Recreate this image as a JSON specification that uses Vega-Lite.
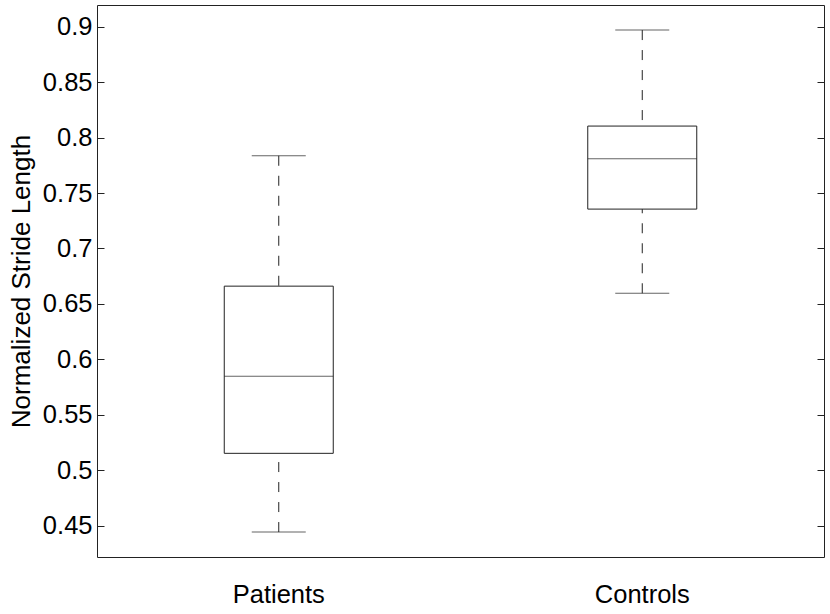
{
  "$schema": "https://vega.github.io/schema/vega-lite/v6.json",
  "width": 727,
  "height": 552,
  "autosize": "none",
  "padding": {"left": 97, "top": 5, "right": 6, "bottom": 57},
  "background": "white",
  "config": {
    "view": {"stroke": "#222222", "strokeWidth": 1},
    "font": "Liberation Sans",
    "axis": {"grid": false, "labelColor": "black", "titleColor": "black", "labelFont": "Liberation Sans", "titleFont": "Liberation Sans"}
  },
  "data": {
    "values": [
      {"group": "Patients", "lower": 0.4442, "q1": 0.5152, "median": 0.5847, "q3": 0.666, "upper": 0.7836},
      {"group": "Controls", "lower": 0.6596, "q1": 0.7355, "median": 0.7809, "q3": 0.8104, "upper": 0.897}
    ]
  },
  "encoding": {
    "x": {
      "field": "group",
      "type": "nominal",
      "sort": ["Patients", "Controls"],
      "scale": {"paddingInner": 0, "paddingOuter": 0},
      "axis": {"title": null, "labelAngle": 0, "labelFontSize": 25.5, "labelPadding": 25, "ticks": false, "domain": false}
    }
  },
  "resolve": {"axis": {"y": "independent"}},
  "layer": [
    {
      "mark": {"type": "rule", "color": "#222222", "strokeWidth": 1, "strokeDash": [10, 10]},
      "encoding": {
        "y": {"field": "lower", "type": "quantitative", "scale": {"domain": [0.4217, 0.9196], "nice": false, "zero": false}, "axis": null},
        "y2": {"field": "q1"}
      }
    },
    {
      "mark": {"type": "rule", "color": "#222222", "strokeWidth": 1, "strokeDash": [10, 10]},
      "encoding": {
        "y": {"field": "upper", "type": "quantitative", "axis": null},
        "y2": {"field": "q3"}
      }
    },
    {
      "mark": {"type": "bar", "fill": "white", "stroke": "#222222", "strokeWidth": 1, "size": 109},
      "encoding": {
        "y": {
          "field": "q1",
          "type": "quantitative",
          "axis": {
            "orient": "left",
            "offset": -7,
            "title": "Normalized Stride Length",
            "titleFontSize": 26,
            "titleFontWeight": "normal",
            "titlePadding": 8,
            "labelFontSize": 25.5,
            "labelPadding": 5,
            "ticks": true,
            "tickSize": 7,
            "tickWidth": 1,
            "tickColor": "#222222",
            "domain": false,
            "values": [0.45, 0.5, 0.55, 0.6, 0.65, 0.7, 0.75, 0.8, 0.85, 0.9],
            "format": ".2~f"
          }
        },
        "y2": {"field": "q3"}
      }
    },
    {
      "mark": {"type": "tick", "color": "#222222", "thickness": 1, "size": 109},
      "encoding": {"y": {"field": "median", "type": "quantitative", "axis": null}}
    },
    {
      "mark": {"type": "tick", "color": "#222222", "thickness": 1, "size": 54},
      "encoding": {"y": {"field": "lower", "type": "quantitative", "axis": null}}
    },
    {
      "mark": {"type": "tick", "color": "#222222", "thickness": 1, "size": 54},
      "encoding": {
        "y": {
          "field": "upper",
          "type": "quantitative",
          "axis": {
            "orient": "right",
            "offset": -7,
            "title": null,
            "labels": false,
            "ticks": true,
            "tickSize": 7,
            "tickWidth": 1,
            "tickColor": "#222222",
            "domain": false,
            "values": [0.45, 0.5, 0.55, 0.6, 0.65, 0.7, 0.75, 0.8, 0.85, 0.9]
          }
        }
      }
    }
  ]
}
